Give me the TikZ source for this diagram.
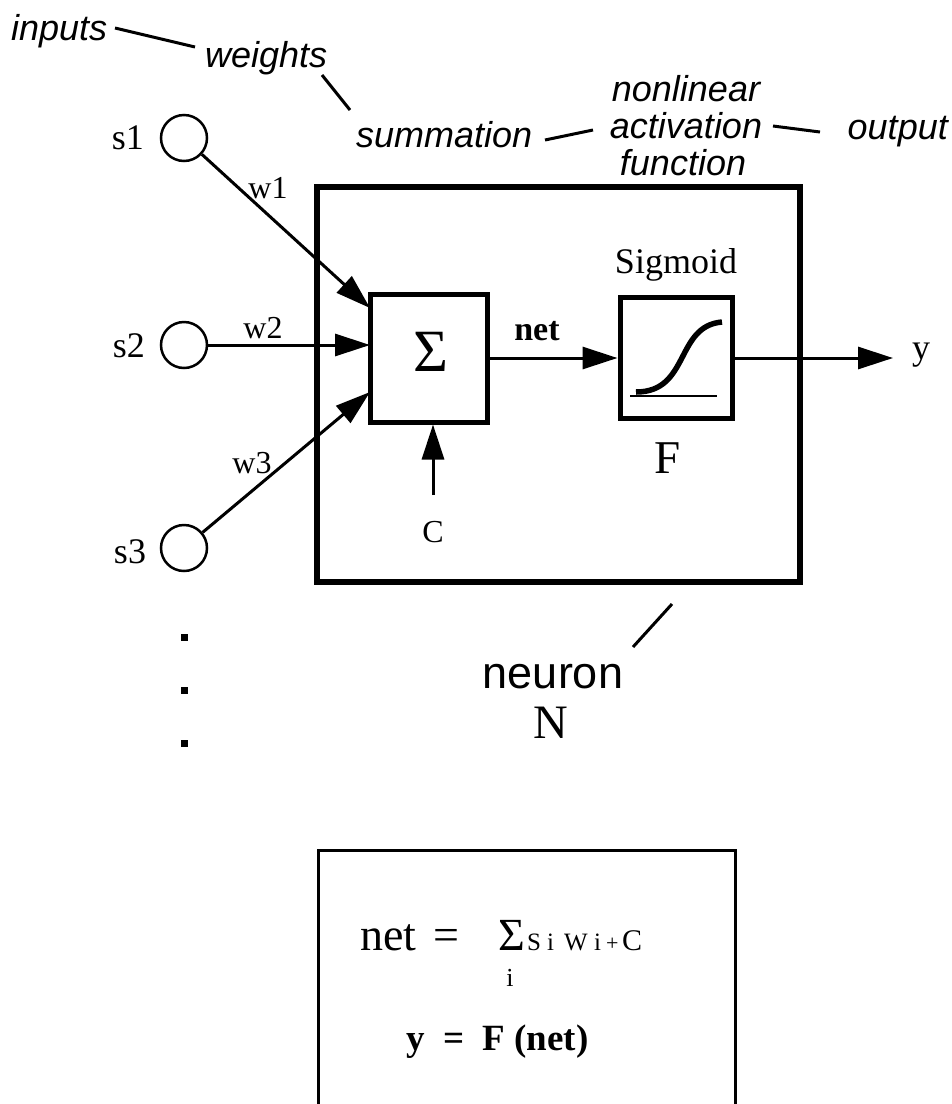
\documentclass[tikz,border=0pt]{standalone}
\usepackage{fontspec}
\setmainfont{Liberation Serif}
\newfontfamily\hvfont{Liberation Sans}
\usetikzlibrary{arrows.meta}
\begin{document}
\begin{tikzpicture}[x=1pt,y=-1pt,
  lab/.style={font=\hvfont\itshape\fontsize{36}{40}\selectfont, inner sep=0pt},
  tm/.style={font=\fontsize{#1}{#1}\selectfont, inner sep=0pt},
  tmb/.style={font=\bfseries\fontsize{#1}{#1}\selectfont, inner sep=0pt},
  arr/.style={-{Triangle[length=35pt,width=22pt]}, line width=3pt},
  lead/.style={line width=3pt},
  inp/.style={circle, draw, line width=2.5pt, minimum size=46pt, inner sep=0pt},
  blk/.style={draw, line width=5pt, inner sep=0pt}
]
\useasboundingbox (0,0) rectangle (952,1104);

% top annotation labels
\node[lab, anchor=base west] (inputs) at (11,40) {inputs};
\node[lab, anchor=base west] (weights) at (205,67) {weights};
\node[lab, anchor=base west] (summ) at (356,147) {summation};
\node[lab, anchor=base] (nonl) at (686,101) {nonlinear};
\node[lab, anchor=base] (activ) at (686,138) {activation};
\node[lab, anchor=base] (func) at (683,175) {function};
\node[lab, anchor=base east] (outp) at (948,139) {output};
\coordinate (l1a) at (115,28); \coordinate (l1b) at (195,47);
\coordinate (l2a) at (322,75); \coordinate (l2b) at (350,110);
\coordinate (l3a) at (545,140); \coordinate (l3b) at (593,130);
\coordinate (l4a) at (773,126); \coordinate (l4b) at (820,132);
\draw[lead] (l1a) -- (l1b);
\draw[lead] (l2a) -- (l2b);
\draw[lead] (l3a) -- (l3b);
\draw[lead] (l4a) -- (l4b);

% inputs
\node[inp] (c1) at (184,138) {};
\node[inp] (c2) at (184,345) {};
\node[inp] (c3) at (184,548) {};
\node[tm=36] (s1) at (128,138) {s1};
\node[tm=36] (s2) at (129,346) {s2};
\node[tm=36] (s3) at (130,552) {s3};

% dots
\fill (180.5,633.5) rectangle ++(7,7);
\fill (180.5,686.5) rectangle ++(7,7);
\fill (180.5,739.5) rectangle ++(7,7);

% neuron box
\node[draw, line width=6pt, minimum width=483pt, minimum height=395pt, inner sep=0pt] (big) at (558.5,384.5) {};
\node[blk, minimum width=117pt, minimum height=128pt] (sig) at (428.5,358) {};
\node[tm=60] (sigma) at (431,352) {Σ};
\node[blk, minimum width=112pt, minimum height=121pt] (sgm) at (676,358) {};
\node[tm=36] (sgmlab) at (676,265) {Sigmoid};
\node[tm=47] (F) at (668,458) {F};
\draw[line width=5.5pt] (636,392) .. controls (690,392) and (675,326) .. (722,322);
\draw[line width=2.5pt] (630,396) -- (717,396);

% weights arrows
\coordinate (t1) at (370,308);
\coordinate (t2) at (370,345);
\coordinate (t3) at (370,392);
\draw[arr] (c1) -- (t1);
\draw[arr] (c2) -- (t2);
\draw[arr] (c3) -- (t3);
\node[tm=32] (w1) at (268,188) {w1};
\node[tm=32] (w2) at (263,328) {w2};
\node[tm=32] (w3) at (252,463) {w3};

% net
\draw[arr] (sig.east) -- (sgm.west);
\node[tmb=34] (netlab) at (537,331) {net};

% output
\coordinate (yend) at (893,358);
\draw[arr] (sgm.east) -- (yend);
\node[tm=36] (ylab) at (921,355) {y};

% bias
\coordinate (cb) at (433,495);
\draw[arr] (cb) -- (cb |- sig.south);
\node[tm=32] (clab) at (433,532) {C};

% neuron label
\node[font=\hvfont\fontsize{45}{50}\selectfont, inner sep=0pt] (neuron) at (553,677) {neuron};
\node[tm=48] (Nlab) at (551,723) {N};
\coordinate (sl1) at (633,647); \coordinate (sl2) at (672,604);
\draw[lead] (sl1) -- (sl2);

% formula box
\draw[line width=3pt] (318,1104) -- (318,850) -- (735,850) -- (735,1104);
\node[tm=46, anchor=base west] (fnet) at (360,950) {net};
\node[tm=46, anchor=base] (feq) at (446,950) {=};
\node[tm=46, anchor=base west] (fsig) at (498,950) {Σ};
\node[tm=25, anchor=base west] (fs) at (527,950) {S};
\node[tm=25, anchor=base west] (fi1) at (547,950) {i};
\node[tm=25, anchor=base west] (fw) at (564,950) {W};
\node[tm=25, anchor=base west] (fi2) at (594,950) {i};
\node[tm=22, anchor=base west] (fplus) at (606,950) {+};
\node[tm=30, anchor=base west] (fc) at (622,950) {C};
\node[tm=26] (fi) at (510,978) {i};
\node[tmb=37, anchor=base west] (fy) at (406,1050) {y\enspace=\enspace F (net)};
\end{tikzpicture}
\end{document}
